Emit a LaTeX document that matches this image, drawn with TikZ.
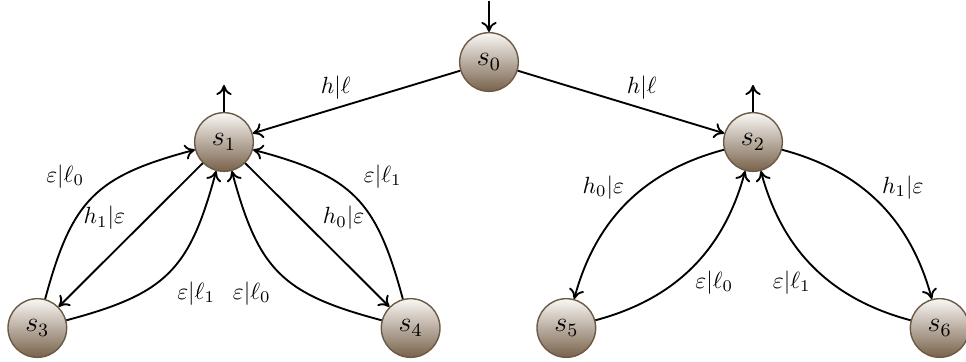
\documentclass[tikz,border=0pt]{standalone}
\usepackage{amsmath}
\usetikzlibrary{arrows.meta}
\definecolor{stateborder}{RGB}{108,90,70}
\definecolor{statetop}{RGB}{250,248,245}
\definecolor{statebottom}{RGB}{120,98,75}
\begin{document}
\begin{tikzpicture}
           \tikzstyle{state} = [circle, minimum size=0.88cm, inner sep=0pt, semithick, draw=stateborder, top color=statetop, bottom color=statebottom, font=\large]
            \tikzstyle{arrow} = [thick,-{To[length=1.5mm,width=2.3mm]}]
            \tikzstyle{lbl} = [font=\normalsize]
            \useasboundingbox (-7.335,0.93) rectangle (7.155,-4.485);

            \node (s0) [state] {$s_0$};
            \node (s1) [state, below of=s0, node distance=1.2cm, xshift=-3.975cm] {$s_1$};
            \node (s2) [state, below of=s0, node distance=1.2cm, xshift=3.96cm] {$s_2$};
            \node (s3) [state, below of=s1, node distance=2.79cm, xshift=-2.8cm] {$s_3$};
            \node (s4) [state, below of=s1, node distance=2.79cm, xshift=2.8cm] {$s_4$};
            \node (s5) [state, below of=s2, node distance=2.79cm, xshift=-2.8cm] {$s_5$};
            \node (s6) [state, below of=s2, node distance=2.79cm, xshift=2.8cm] {$s_6$};

            \coordinate (start) at ([yshift=0.92cm]s0.center);
            \coordinate (out1) at ([yshift=0.855cm]s1.center);
            \coordinate (out2) at ([yshift=0.855cm]s2.center);

            \draw[arrow] (start) -- (s0);
            \draw[arrow] (s1) -- (out1);
            \draw[arrow] (s2) -- (out2);
            \draw[arrow] (s0) -- node[lbl, above, pos=0.6] {$h|\ell$} (s1);
            \draw[arrow] (s0) -- node[lbl, above, pos=0.6] {$h|\ell$} (s2);

            \draw[arrow] (s1) -- node[lbl, above left, inner sep=2pt] {$h_1|\varepsilon$} (s3);
            \draw[arrow] (s1) -- node[lbl, above right, inner sep=2pt] {$h_0|\varepsilon$} (s4);
            \draw[arrow] (s3) to[bend left=30, looseness=1.25] node[lbl, above left] {$\varepsilon|\ell_0$} (s1);
            \draw[arrow] (s3) to[bend right=30, looseness=1.25] node[lbl, below right] {$\varepsilon|\ell_1$} (s1);
            \draw[arrow] (s4) to[bend right=30, looseness=1.25] node[lbl, above right] {$\varepsilon|\ell_1$} (s1);
            \draw[arrow] (s4) to[bend left=30, looseness=1.25] node[lbl, below left] {$\varepsilon|\ell_0$} (s1);

            \draw[arrow] (s2) to[bend right=30] node[lbl, above left, inner sep=1pt] {$h_0|\varepsilon$} (s5);
            \draw[arrow] (s5) to[bend right=30] node[lbl, below right, inner sep=1pt] {$\varepsilon|\ell_0$} (s2);
            \draw[arrow] (s2) to[bend left=30] node[lbl, above right, inner sep=1pt] {$h_1|\varepsilon$} (s6);
            \draw[arrow] (s6) to[bend left=30] node[lbl, below left, inner sep=1pt] {$\varepsilon|\ell_1$} (s2);
       \end{tikzpicture}
\end{document}
